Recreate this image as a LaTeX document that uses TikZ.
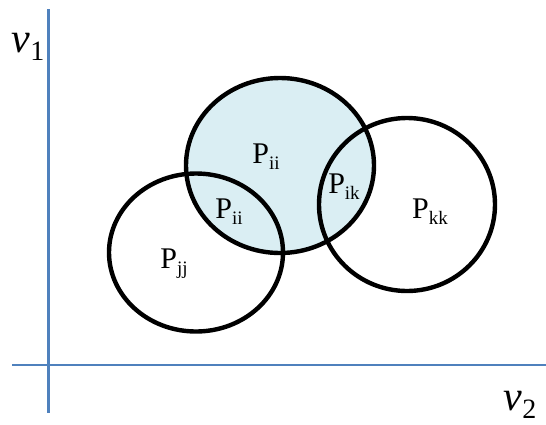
\documentclass[tikz,border=0pt]{standalone}
\usepackage{fontspec}
\setmainfont{Liberation Serif}
\definecolor{axisblue}{HTML}{4F81BD}
\definecolor{setfill}{HTML}{DAEEF3}
\newcommand{\Plab}[1]{{\fontsize{30}{30}\selectfont P\raisebox{-6pt}{\fontsize{19}{19}\selectfont #1}}}
\newcommand{\Vlab}[1]{{\fontsize{42}{42}\selectfont\itshape v}\raisebox{-8pt}{\fontsize{28}{28}\selectfont #1}}
\begin{document}
\begin{tikzpicture}[x=1pt,y=-1pt,
  axisline/.style={draw=axisblue,line width=2.4pt},
  setline/.style={draw=black,line width=4.4pt},
  lab/.style={inner sep=0pt,anchor=center}]
\useasboundingbox (0,0) rectangle (546,424);
% axes
\coordinate (ytop) at (48.5,9);
\coordinate (ybot) at (48.5,413);
\coordinate (xl) at (12,365);
\coordinate (xr) at (546,365);
\draw[axisline] (ytop) -- (ybot);
\draw[axisline] (xl) -- (xr);
% sets
\coordinate (ci) at (280,165.5);
\coordinate (cj) at (196,252.5);
\coordinate (ck) at (407,204.5);
\fill[setfill] (ci) ellipse [x radius=94, y radius=87.5];
\draw[setline] (ci) ellipse [x radius=94, y radius=87.5];
\draw[setline] (cj) ellipse [x radius=87, y radius=79];
\draw[setline] (ck) ellipse [x radius=88, y radius=86.5];
% labels
\node[lab] (lii) at (266,157) {\Plab{ii}};
\node[lab] (lii2) at (229,212) {\Plab{ii}};
\node[lab] (lik) at (344,187) {\Plab{ik}};
\node[lab] (lkk) at (430,212) {\Plab{kk}};
\node[lab] (ljj) at (174,264) {\Plab{jj}};
\node[lab] (v1) at (28,47) {\Vlab{1}};
\node[lab] (v2) at (520,405) {\Vlab{2}};
\end{tikzpicture}
\end{document}
